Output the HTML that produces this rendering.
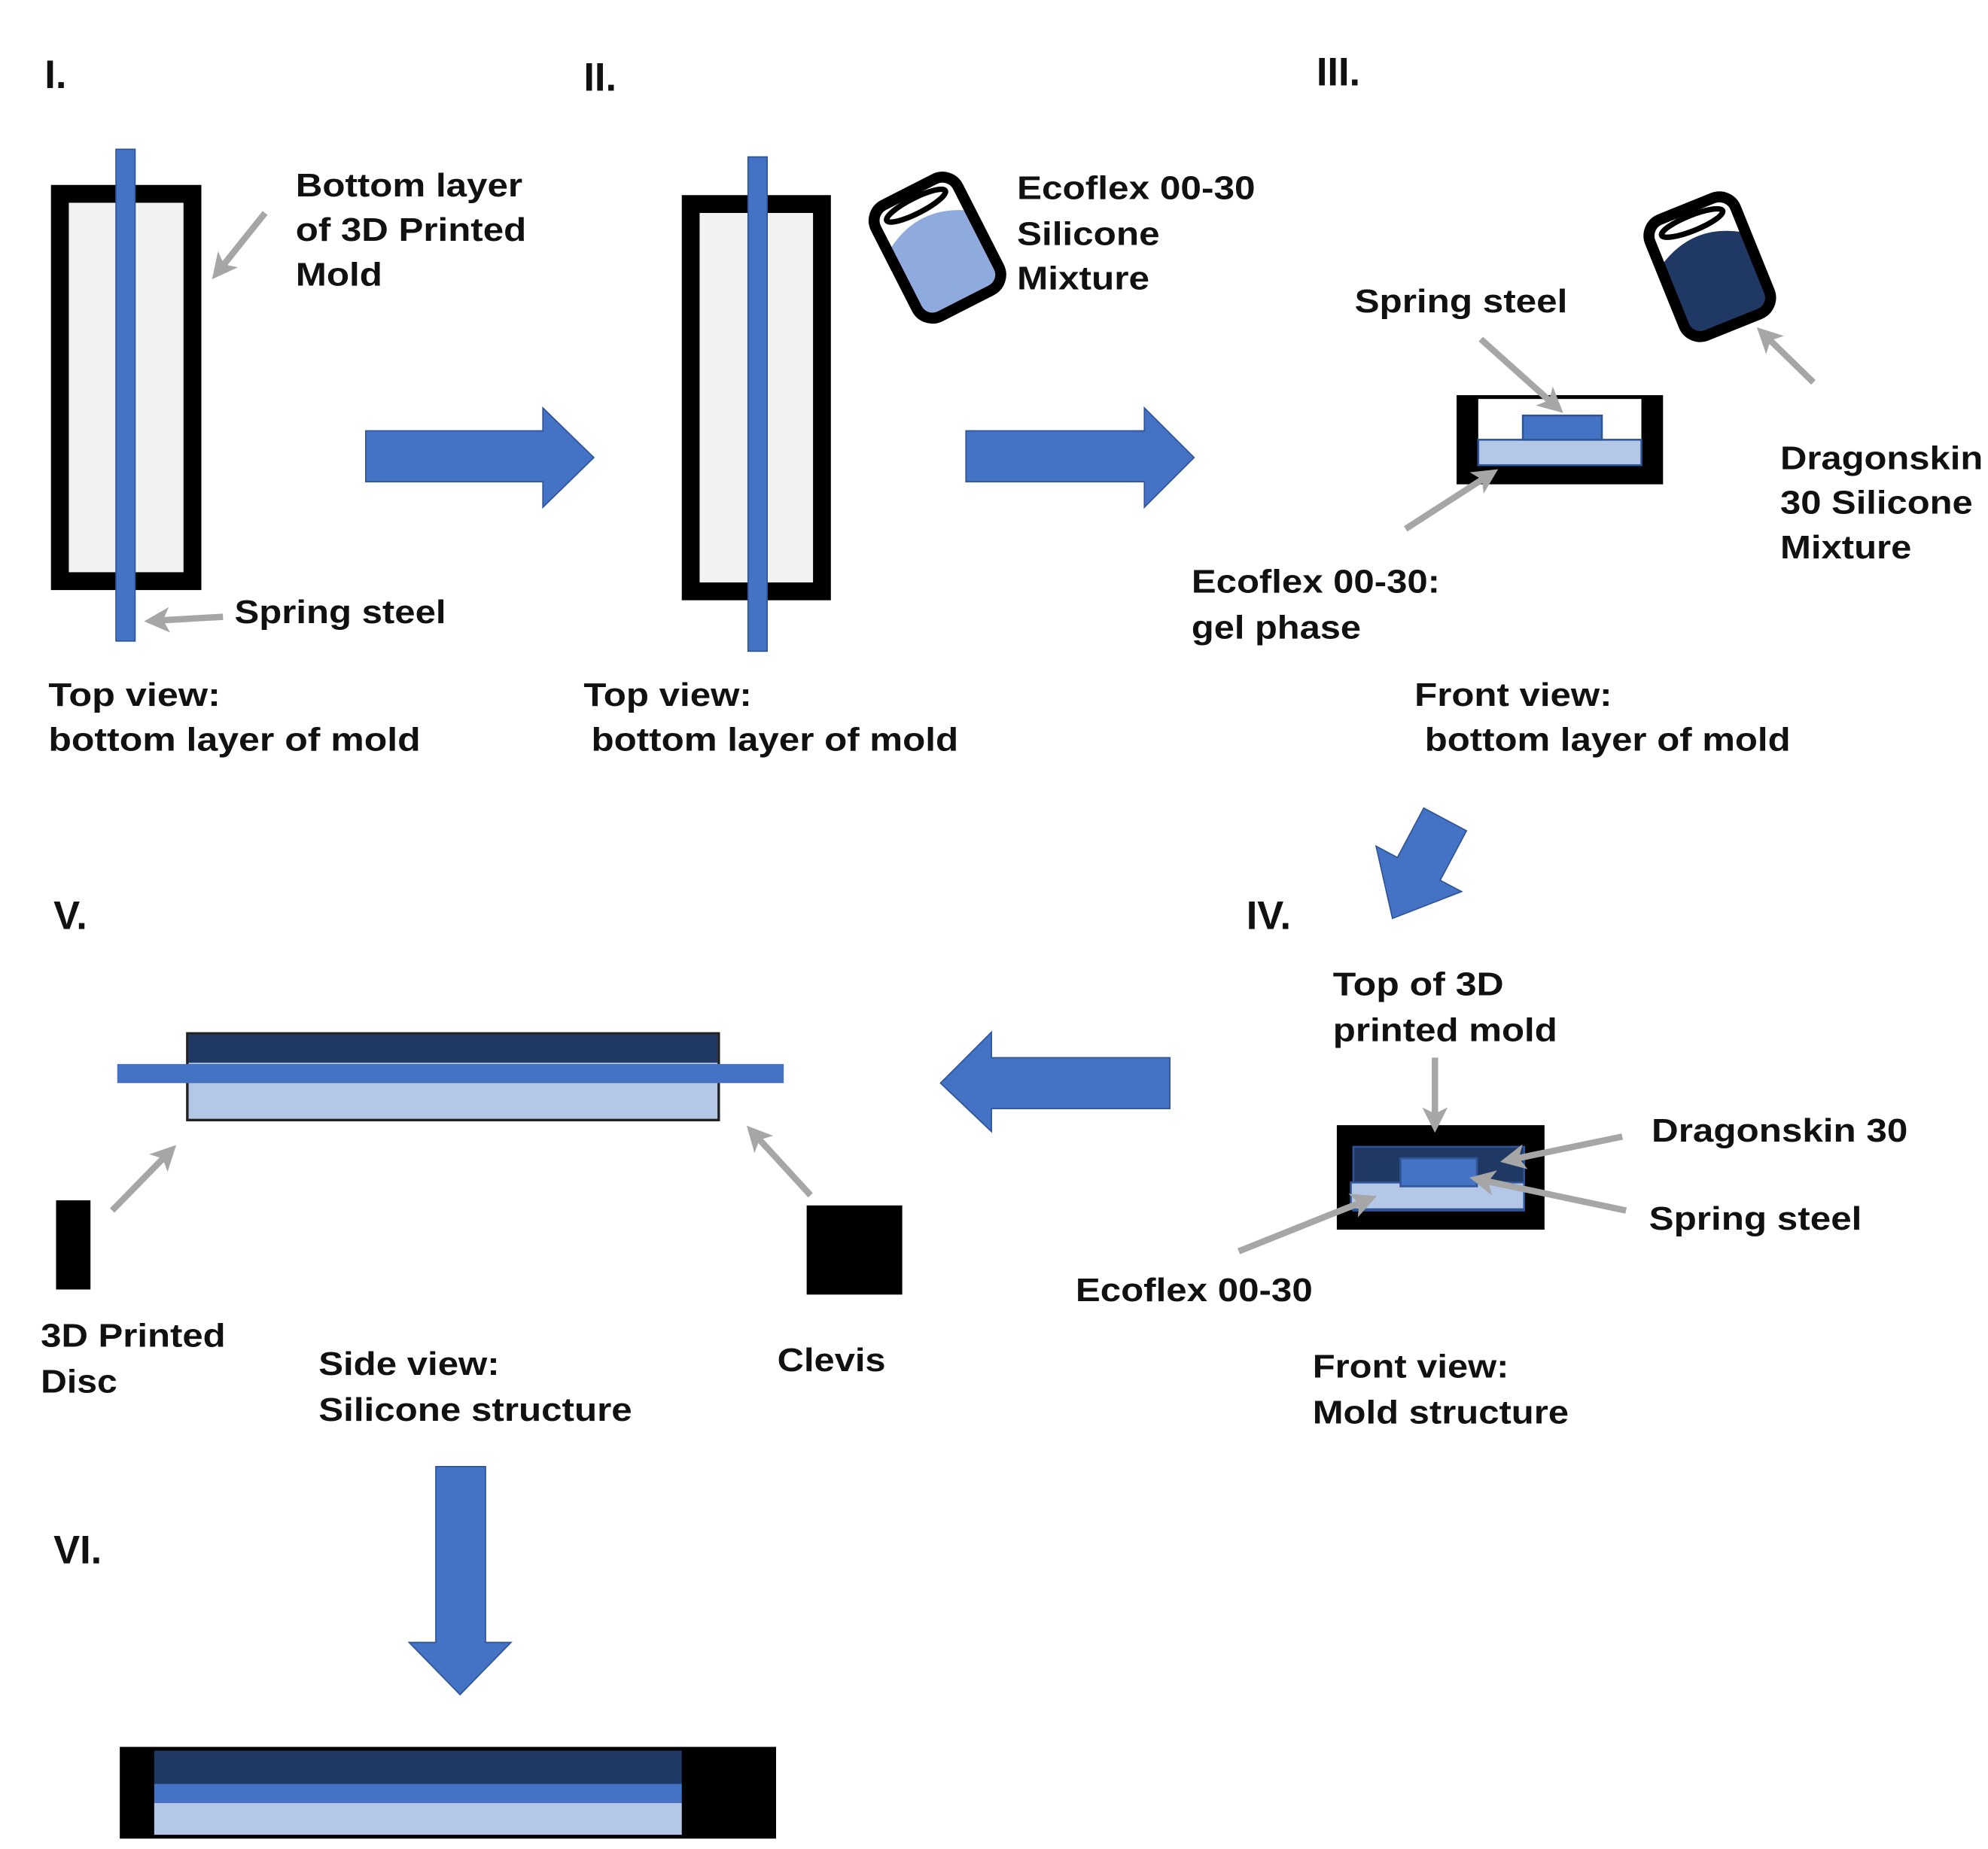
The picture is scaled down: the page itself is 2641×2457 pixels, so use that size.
<!DOCTYPE html>
<html><head><meta charset="utf-8"><style>
html,body{margin:0;padding:0;background:#fff;}
svg{display:block;}
text{font-family:"Liberation Sans",Arial,sans-serif;font-weight:bold;fill:#111;}
</style></head><body>
<svg width="2641" height="2457" viewBox="0 0 1560 1451" xmlns="http://www.w3.org/2000/svg">
<defs>
<marker id="ga" markerWidth="4" markerHeight="4" refX="2.2" refY="2" orient="auto" markerUnits="strokeWidth"><path d="M0,0 L4,2 L0,4 L1,2 Z" fill="#a6a6a6"/></marker>
</defs>
<rect width="1560" height="1451" fill="#fff"/>

<g lengthAdjust="spacingAndGlyphs">
<!-- Section labels -->
<text x="35" y="69" font-size="31">I.</text>
<text x="458" y="71" font-size="31">II.</text>
<text x="1033" y="67" font-size="31">III.</text>
<text x="42" y="729" font-size="31">V.</text>
<text x="978" y="729" font-size="31">IV.</text>
<text x="42" y="1227" font-size="31">VI.</text>

<!-- Panel I -->
<rect x="47" y="152" width="104" height="304" fill="#f2f2f2" stroke="#000" stroke-width="14"/>
<rect x="91" y="117" width="15" height="386" fill="#4472c4" stroke="#2f5597" stroke-width="1"/>
<text x="232" y="154" font-size="26" textLength="178" lengthAdjust="spacingAndGlyphs">Bottom layer</text>
<text x="232" y="189" font-size="26" textLength="181" lengthAdjust="spacingAndGlyphs">of 3D Printed</text>
<text x="232" y="224" font-size="26" textLength="68" lengthAdjust="spacingAndGlyphs">Mold</text>
<line x1="208" y1="167" x2="172" y2="212" stroke="#a6a6a6" stroke-width="5" marker-end="url(#ga)"/>
<text x="184" y="489" font-size="26" textLength="166" lengthAdjust="spacingAndGlyphs">Spring steel</text>
<line x1="175" y1="484" x2="122" y2="487" stroke="#a6a6a6" stroke-width="5" marker-end="url(#ga)"/>
<text x="38" y="554" font-size="26" textLength="135" lengthAdjust="spacingAndGlyphs">Top view:</text>
<text x="38" y="589" font-size="26" textLength="292" lengthAdjust="spacingAndGlyphs">bottom layer of mold</text>

<!-- Big arrows -->
<polygon points="287,338 426,338 426,320 466,359 426,398 426,378 287,378" fill="#4472c4" stroke="#2f5597" stroke-width="1"/>
<polygon points="758,338 898,338 898,320 937,359 898,398 898,378 758,378" fill="#4472c4" stroke="#2f5597" stroke-width="1"/>

<!-- Panel II -->
<rect x="542" y="160" width="103" height="304" fill="#f2f2f2" stroke="#000" stroke-width="14"/>
<rect x="587" y="123" width="15" height="388" fill="#4472c4" stroke="#2f5597" stroke-width="1"/>

<!-- Cup 1 -->
<g transform="translate(736,195) rotate(-27) scale(0.86)">
<path d="M-38,-20 Q0,-42 38,-20 L38,44 Q38,52 30,52 L-30,52 Q-38,52 -38,44 Z" fill="#8faadc"/>
<rect x="-42" y="-58" width="84" height="114" rx="16" fill="none" stroke="#000" stroke-width="10"/>
<ellipse cx="0" cy="-44" rx="30" ry="7" fill="#fff" stroke="#000" stroke-width="5"/>
</g>
<text x="798" y="156" font-size="26" textLength="187" lengthAdjust="spacingAndGlyphs">Ecoflex 00-30</text>
<text x="798" y="192" font-size="26" textLength="112" lengthAdjust="spacingAndGlyphs">Silicone</text>
<text x="798" y="227" font-size="26" textLength="104" lengthAdjust="spacingAndGlyphs">Mixture</text>
<text x="458" y="554" font-size="26" textLength="132" lengthAdjust="spacingAndGlyphs">Top view:</text>
<text x="464" y="589" font-size="26" textLength="288" lengthAdjust="spacingAndGlyphs">bottom layer of mold</text>

<!-- Panel III -->
<rect x="1143" y="310" width="162" height="70" fill="#000"/>
<rect x="1160" y="313" width="128" height="52" fill="#fff"/>
<rect x="1160" y="345" width="128" height="20" fill="#b4c7e7" stroke="#2f5597" stroke-width="1.5"/>
<rect x="1195" y="326" width="62" height="19" fill="#4472c4" stroke="#2f5597" stroke-width="1.5"/>
<text x="1063" y="245" font-size="26" textLength="167" lengthAdjust="spacingAndGlyphs">Spring steel</text>
<line x1="1162" y1="266" x2="1220" y2="318" stroke="#a6a6a6" stroke-width="5" marker-end="url(#ga)"/>
<line x1="1103" y1="415" x2="1168" y2="373" stroke="#a6a6a6" stroke-width="5" marker-end="url(#ga)"/>
<text x="935" y="465" font-size="26" textLength="195" lengthAdjust="spacingAndGlyphs">Ecoflex 00-30:</text>
<text x="935" y="501" font-size="26" textLength="133" lengthAdjust="spacingAndGlyphs">gel phase</text>

<!-- Cup 2 -->
<g transform="translate(1342,210) rotate(-22) scale(0.86)">
<path d="M-38,-20 Q0,-42 38,-20 L38,44 Q38,52 30,52 L-30,52 Q-38,52 -38,44 Z" fill="#203864"/>
<rect x="-42" y="-58" width="84" height="114" rx="16" fill="none" stroke="#000" stroke-width="10"/>
<ellipse cx="0" cy="-44" rx="30" ry="7" fill="#fff" stroke="#000" stroke-width="5"/>
</g>
<line x1="1423" y1="300" x2="1385" y2="263" stroke="#a6a6a6" stroke-width="5" marker-end="url(#ga)"/>
<text x="1397" y="368" font-size="26" textLength="159" lengthAdjust="spacingAndGlyphs">Dragonskin</text>
<text x="1397" y="403" font-size="26" textLength="151" lengthAdjust="spacingAndGlyphs">30 Silicone</text>
<text x="1397" y="438" font-size="26" textLength="103" lengthAdjust="spacingAndGlyphs">Mixture</text>
<text x="1110" y="554" font-size="26" textLength="155" lengthAdjust="spacingAndGlyphs">Front view:</text>
<text x="1118" y="589" font-size="26" textLength="287" lengthAdjust="spacingAndGlyphs">bottom layer of mold</text>

<!-- Diagonal arrow -->
<g transform="translate(1134,643) rotate(118)">
<polygon points="0,-19 44,-19 44,-38 88,0 44,38 44,19 0,19" fill="#4472c4" stroke="#2f5597" stroke-width="1"/>
</g>

<!-- Panel IV -->
<rect x="1049" y="883" width="163" height="82" fill="#000"/>
<rect x="1062" y="900" width="134" height="50" fill="#203864" stroke="#2f5597" stroke-width="1.5"/>
<rect x="1060" y="928" width="136" height="21" fill="#b4c7e7" stroke="#2f5597" stroke-width="1.5"/>
<rect x="1099" y="909" width="60" height="22" fill="#4472c4" stroke="#2f5597" stroke-width="1.5"/>
<text x="1046" y="781" font-size="26" textLength="134" lengthAdjust="spacingAndGlyphs">Top of 3D</text>
<text x="1046" y="817" font-size="26" textLength="176" lengthAdjust="spacingAndGlyphs">printed mold</text>
<line x1="1126" y1="830" x2="1126" y2="880" stroke="#a6a6a6" stroke-width="5" marker-end="url(#ga)"/>
<text x="1296" y="896" font-size="26" textLength="201" lengthAdjust="spacingAndGlyphs">Dragonskin 30</text>
<line x1="1273" y1="892" x2="1186" y2="910" stroke="#a6a6a6" stroke-width="5" marker-end="url(#ga)"/>
<text x="1294" y="965" font-size="26" textLength="167" lengthAdjust="spacingAndGlyphs">Spring steel</text>
<line x1="1276" y1="950" x2="1162" y2="926" stroke="#a6a6a6" stroke-width="5" marker-end="url(#ga)"/>
<line x1="972" y1="982" x2="1072" y2="942" stroke="#a6a6a6" stroke-width="5" marker-end="url(#ga)"/>
<text x="844" y="1021" font-size="26" textLength="186" lengthAdjust="spacingAndGlyphs">Ecoflex 00-30</text>
<text x="1030" y="1081" font-size="26" textLength="154" lengthAdjust="spacingAndGlyphs">Front view:</text>
<text x="1030" y="1117" font-size="26" textLength="201" lengthAdjust="spacingAndGlyphs">Mold structure</text>

<!-- Left arrow -->
<polygon points="918,830 778,830 778,810 738,850 778,888 778,870 918,870" fill="#4472c4" stroke="#2f5597" stroke-width="1"/>

<!-- Panel V -->
<rect x="147" y="811" width="417" height="68" fill="#b4c7e7" stroke="#222" stroke-width="2"/>
<rect x="148" y="812" width="415" height="22" fill="#203864"/>
<rect x="92" y="835" width="523" height="15" fill="#4472c4"/>
<rect x="44" y="942" width="27" height="70" fill="#000"/>
<rect x="633" y="946" width="75" height="70" fill="#000"/>
<line x1="88" y1="950" x2="132" y2="905" stroke="#a6a6a6" stroke-width="5" marker-end="url(#ga)"/>
<line x1="636" y1="938" x2="592" y2="890" stroke="#a6a6a6" stroke-width="5" marker-end="url(#ga)"/>
<text x="32" y="1057" font-size="26" textLength="145" lengthAdjust="spacingAndGlyphs">3D Printed</text>
<text x="32" y="1093" font-size="26" textLength="60" lengthAdjust="spacingAndGlyphs">Disc</text>
<text x="250" y="1079" font-size="26" textLength="142" lengthAdjust="spacingAndGlyphs">Side view:</text>
<text x="250" y="1115" font-size="26" textLength="246" lengthAdjust="spacingAndGlyphs">Silicone structure</text>
<text x="610" y="1076" font-size="26" textLength="85" lengthAdjust="spacingAndGlyphs">Clevis</text>

<!-- Down arrow -->
<polygon points="342,1151 381,1151 381,1289 401,1289 361,1330 321,1289 342,1289" fill="#4472c4" stroke="#2f5597" stroke-width="1"/>

<!-- Panel VI -->
<rect x="94" y="1371" width="515" height="72" fill="#000"/>
<rect x="121" y="1374" width="414" height="26" fill="#203864"/>
<rect x="121" y="1400" width="414" height="15" fill="#4472c4"/>
<rect x="121" y="1415" width="414" height="25" fill="#b4c7e7"/>
</g>
</svg>
</body></html>
